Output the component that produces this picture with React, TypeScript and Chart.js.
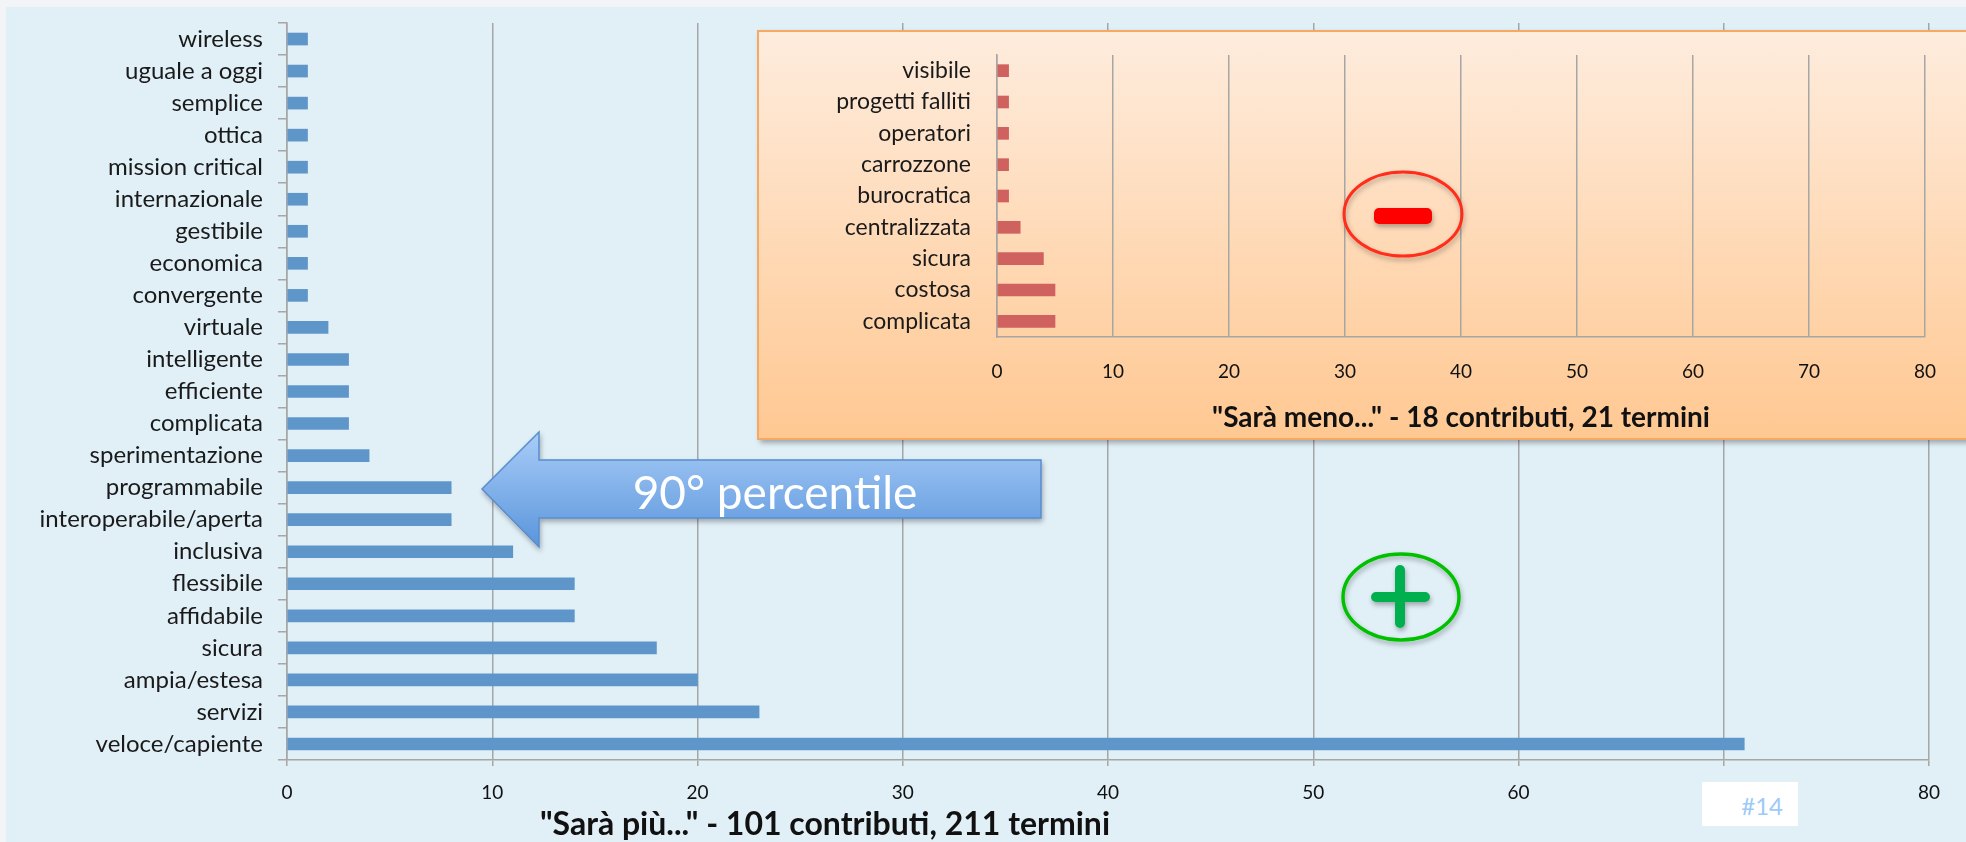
import React, { useEffect, useRef } from "react";
import { Chart, registerables } from "chart.js";

Chart.register(...registerables);

// "Sarà più..." – main chart (top to bottom)
const moreLabels = [
  "wireless",
  "uguale a oggi",
  "semplice",
  "ottica",
  "mission critical",
  "internazionale",
  "gestibile",
  "economica",
  "convergente",
  "virtuale",
  "intelligente",
  "efficiente",
  "complicata",
  "sperimentazione",
  "programmabile",
  "interoperabile/aperta",
  "inclusiva",
  "flessibile",
  "affidabile",
  "sicura",
  "ampia/estesa",
  "servizi",
  "veloce/capiente",
];
const moreValues = [1, 1, 1, 1, 1, 1, 1, 1, 1, 2, 3, 3, 3, 4, 8, 8, 11, 14, 14, 18, 20, 23, 71];

// "Sarà meno..." – inset chart (top to bottom)
const lessLabels = [
  "visibile",
  "progetti falliti",
  "operatori",
  "carrozzone",
  "burocratica",
  "centralizzata",
  "sicura",
  "costosa",
  "complicata",
];
const lessValues = [1, 1, 1, 1, 1, 2, 4, 5, 5];

const axisMin = 0;
const axisMax = 80;
const axisStep = 10;

const moreTitle = '"Sarà più..." - 101 contributi, 211 termini';
const lessTitle = '"Sarà meno..." - 18 contributi, 21 termini';
const arrowText = "90° percentile";
const slideNumber = "#14";

const FONT = "Lato";
const GRID = "#a6a6a6";

export default function App() {
  const mainRef = useRef<HTMLCanvasElement>(null);
  const insetRef = useRef<HTMLCanvasElement>(null);

  useEffect(() => {
    const main = new Chart(mainRef.current as HTMLCanvasElement, {
      type: "bar",
      data: {
        labels: moreLabels,
        datasets: [{ data: moreValues, backgroundColor: "#5f96ca", barThickness: 12 }],
      },
      options: {
        indexAxis: "y",
        responsive: false,
        maintainAspectRatio: false,
        animation: false,
        devicePixelRatio: 1,
        layout: { padding: { top: 23, right: 37, left: 0, bottom: 0 } },
        plugins: { legend: { display: false }, tooltip: { enabled: false } },
        scales: {
          x: {
            min: axisMin,
            max: axisMax,
            ticks: { stepSize: axisStep, color: "#111", font: { family: FONT, size: 19 }, padding: 15 },
            grid: { color: GRID, lineWidth: 1.5, tickLength: 6 },
            border: { color: GRID, width: 1.5 },
            afterFit: (s: any) => {
              s.height = 82;
            },
          },
          y: {
            ticks: { autoSkip: false, color: "#1a1a1a", font: { family: FONT, size: 24 }, padding: 15 },
            grid: { drawOnChartArea: false, color: GRID, lineWidth: 1.5, tickLength: 9 },
            border: { color: GRID, width: 1.5 },
            afterFit: (s: any) => {
              s.width = 287;
              s.paddingTop = 0;
              s.paddingBottom = 0;
            },
          },
        },
      },
    } as any);

    const inset = new Chart(insetRef.current as HTMLCanvasElement, {
      type: "bar",
      data: {
        labels: lessLabels,
        datasets: [{ data: lessValues, backgroundColor: "#cf625e", barThickness: 12 }],
      },
      options: {
        indexAxis: "y",
        responsive: false,
        maintainAspectRatio: false,
        animation: false,
        devicePixelRatio: 1,
        layout: { padding: { top: 23, right: 22, left: 0, bottom: 0 } },
        plugins: { legend: { display: false }, tooltip: { enabled: false } },
        scales: {
          x: {
            min: axisMin,
            max: axisMax,
            ticks: { stepSize: axisStep, color: "#111", font: { family: FONT, size: 19 }, padding: 23 },
            grid: { color: GRID, lineWidth: 1.5, drawTicks: false },
            border: { color: GRID, width: 1.5 },
            title: {
              display: true,
              text: lessTitle,
              color: "#111",
              font: { family: FONT, size: 28, weight: "bold" },
              padding: { top: 0, bottom: 3 },
            },
            afterFit: (s: any) => {
              s.height = 101;
            },
          },
          y: {
            ticks: { autoSkip: false, color: "#1a1a1a", font: { family: FONT, size: 23 }, padding: 26 },
            grid: { display: false, drawTicks: false },
            border: { color: GRID, width: 1.5 },
            afterFit: (s: any) => {
              s.width = 238;
              s.paddingTop = 0;
              s.paddingBottom = 0;
            },
          },
        },
      },
    } as any);

    return () => {
      main.destroy();
      inset.destroy();
    };
  }, []);

  return (
    <div
      style={{
        position: "fixed",
        left: 0,
        top: 0,
        width: 1966,
        height: 842,
        background: "#f3f4f7",
        overflow: "hidden",
        fontFamily: FONT,
      }}
    >
      <div style={{ position: "absolute", left: 6, top: 7, right: 0, bottom: 0, background: "#e1eff7" }} />
      <canvas ref={mainRef} width={1966} height={842} style={{ position: "absolute", left: 0, top: 0 }} />
      <div
        style={{
          position: "absolute",
          left: 757,
          top: 30,
          width: 1230,
          height: 410,
          boxSizing: "border-box",
          border: "2px solid #f5a962",
          background: "linear-gradient(#feecdd, #ffc892)",
          boxShadow: "3px 3px 5px rgba(0,0,0,0.3)",
        }}
      >
        <canvas ref={insetRef} width={1200} height={406} style={{ position: "absolute", left: 0, top: 0 }} />
      </div>
      <div
        style={{
          position: "absolute",
          left: 825,
          top: 805,
          transform: "translateX(-50%)",
          whiteSpace: "nowrap",
          fontWeight: 700,
          fontSize: 32,
          lineHeight: "36px",
          color: "#111",
        }}
      >
        {moreTitle}
      </div>
      <div
        style={{
          position: "absolute",
          left: 1702,
          top: 782,
          width: 96,
          height: 44,
          background: "#ffffff",
          boxSizing: "border-box",
          paddingRight: 15,
          paddingTop: 4,
          textAlign: "right",
          fontSize: 24,
          lineHeight: "40px",
          color: "#9dcaf6",
        }}
      >
        {slideNumber}
      </div>
      <svg
        width={1966}
        height={842}
        style={{ position: "absolute", left: 0, top: 0, pointerEvents: "none" }}
      >
        <defs>
          <linearGradient id="arrowGrad" x1="0" y1="0" x2="0" y2="1">
            <stop offset="0" stopColor="#a9cdf8" />
            <stop offset="1" stopColor="#5a95db" />
          </linearGradient>
          <filter id="shadow" x="-20%" y="-20%" width="140%" height="150%">
            <feDropShadow dx="1" dy="3" stdDeviation="2.5" floodColor="#000" floodOpacity="0.3" />
          </filter>
        </defs>
        <polygon
          points="482,489 539,432 539,460 1041,460 1041,518 539,518 539,547"
          fill="url(#arrowGrad)"
          stroke="#5a8ccc"
          strokeWidth={1.5}
          filter="url(#shadow)"
        />
        <text
          x={775}
          y={491}
          textAnchor="middle"
          dominantBaseline="central"
          fontFamily={FONT}
          fontSize={46}
          fill="#ffffff"
        >
          {arrowText}
        </text>
        <g filter="url(#shadow)">
          <ellipse cx={1403} cy={214} rx={59} ry={42} fill="none" stroke="#ff2d1a" strokeWidth={3} />
          <rect x={1374} y={208} width={58} height={16} rx={5} fill="#ff0000" />
        </g>
        <g filter="url(#shadow)">
          <ellipse cx={1401} cy={597} rx={58} ry={43} fill="none" stroke="#00c000" strokeWidth={3.5} />
          <line x1={1400} y1={570} x2={1400} y2={623} stroke="#00b050" strokeWidth={10} strokeLinecap="round" />
          <line x1={1376} y1={597} x2={1425} y2={597} stroke="#00b050" strokeWidth={10} strokeLinecap="round" />
        </g>
      </svg>
    </div>
  );
}
